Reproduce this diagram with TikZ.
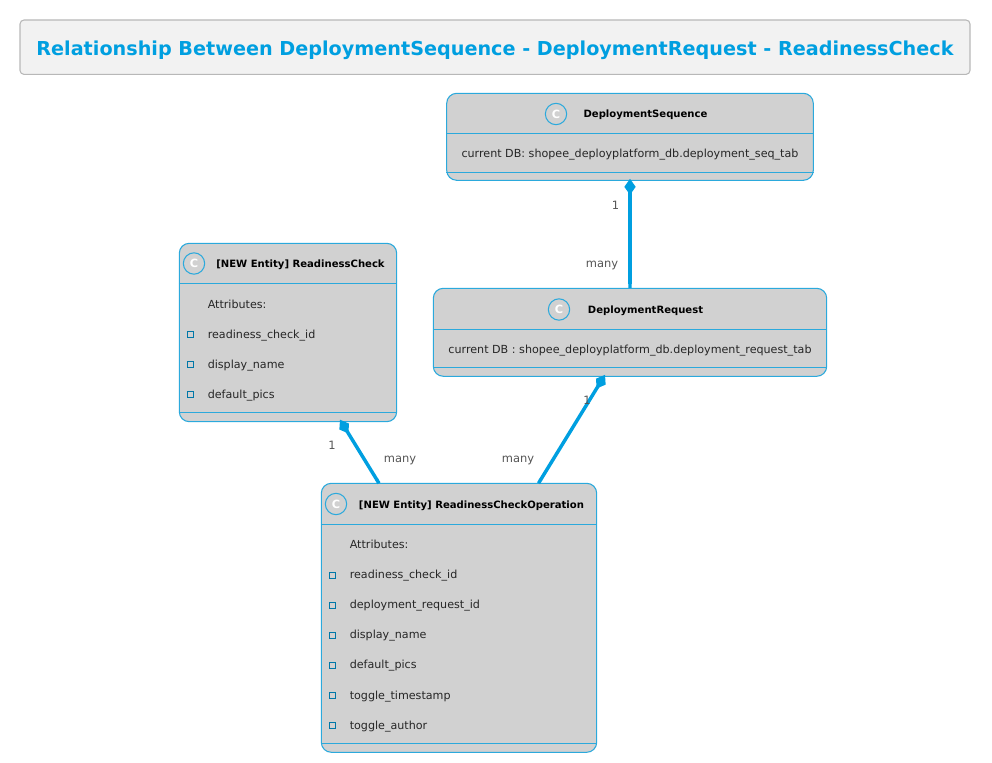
\documentclass[tikz,border=0pt]{standalone}
\usepackage{fontspec}
\setmainfont{DejaVu Sans}
\usetikzlibrary{arrows.meta}
\definecolor{umlblue}{HTML}{009FE0}
\definecolor{umledge}{HTML}{2BA9DC}
\definecolor{umlfill}{HTML}{D1D1D1}
\definecolor{umlgrey}{HTML}{555555}
\tikzset{
  classbox/.style={draw=umledge, fill=umlfill, line width=0.8pt, rounded corners=7.5pt, inner sep=0pt},
  sepline/.style={draw=umledge, line width=0.7pt},
  classmark/.style={circle, draw=umledge, line width=0.8pt, minimum size=16pt, inner sep=0pt, text=white, font=\fontsize{8.5}{9}\selectfont\bfseries},
  classname/.style={text=black, inner sep=0pt, font=\fontsize{7.55}{9}\selectfont\bfseries},
  attr/.style={anchor=base west, inner sep=0pt, text=black!85, font=\fontsize{8.35}{10}\selectfont},
  attrmark/.style={draw=umlblue!75!black, line width=0.6pt, minimum size=4.6pt, inner sep=0pt},
  mult/.style={text=umlgrey, inner sep=0pt, font=\fontsize{8.6}{10}\selectfont},
  compo/.style={draw=umlblue, line width=2.6pt, {Diamond[length=12pt,width=8.5pt]}-{Butt Cap[]}},
}
\begin{document}
\begin{tikzpicture}[x=0.75pt, y=-0.75pt]
  \useasboundingbox (0,0) rectangle (992,763);
  % Title
  \node[draw=black!28, fill=black!5, line width=0.8pt, rounded corners=3pt, inner sep=0pt,
    minimum width=712.5pt, minimum height=40.8pt] (titlebox) at (495,47.2) {};
  \node[text=umlblue, inner sep=0pt, font=\fontsize{14.4}{18}\selectfont\bfseries] (title) at (495,50)
    {Relationship Between DeploymentSequence - DeploymentRequest - ReadinessCheck};

  % Class boxes
  \foreach \name/\cx/\cy/\w/\h/\head/\foot in {
    seq/630/136.8/366.6/87/133.3/172.3,
    req/630/332.3/393.4/88/329.3/367.7,
    rc/288/332.5/217.4/178.4/283.3/412.3,
    op/459/617.8/275.4/269/524.7/743.3} {
    \node[classbox, minimum width=\w*0.75pt, minimum height=\h*0.75pt] (\name) at (\cx,\cy) {};
    \draw[sepline] (\name.west |- 0,\head) -- (\name.east |- 0,\head);
    \draw[sepline] (\name.west |- 0,\foot) -- (\name.east |- 0,\foot);
  }

  % Class headers
  \node[classmark] (seqmark) at (556,114) {C};
  \node[classname] (seqname) at (645.5,115) {DeploymentSequence};
  \node[classmark] (reqmark) at (559,309.5) {C};
  \node[classname] (reqname) at (645.5,310.5) {DeploymentRequest};
  \node[classmark] (rcmark) at (194,263.5) {C};
  \node[classname] (rcname) at (300.5,264.5) {[NEW Entity] ReadinessCheck};
  \node[classmark] (opmark) at (336,504) {C};
  \node[classname] (opname) at (471.5,505.5) {[NEW Entity] ReadinessCheckOperation};

  % Class bodies
  \node[attr, anchor=base] (seqdb) at (630,157.5) {current DB: shopee\_deployplatform\_db.deployment\_seq\_tab};
  \node[attr, anchor=base] (reqdb) at (630,353) {current DB : shopee\_deployplatform\_db.deployment\_request\_tab};
  \node[attr] (rcattrs) at (207.5,308) {Attributes:};
  \foreach \i/\y/\txt in {1/338/readiness\_check\_id, 2/368/display\_name, 3/398/default\_pics} {
    \node[attrmark] (rcmark\i) at (190.5,\y-3.5) {};
    \node[attr] (rcattr\i) at (207.5,\y) {\txt};
  }
  \node[attr] (opattrs) at (349.5,548.5) {Attributes:};
  \foreach \i/\y/\txt in {1/578.5/readiness\_check\_id, 2/608.5/deployment\_request\_id, 3/638.5/display\_name,
    4/668.5/default\_pics, 5/699/toggle\_timestamp, 6/729/toggle\_author} {
    \node[attrmark] (opmark\i) at (332,\y-3.5) {};
    \node[attr] (opattr\i) at (349.5,\y) {\txt};
  }

  % Relations
  \draw[compo] ([yshift=1.5pt]seq.south) -- (req.north);
  \draw[compo] ([shift={(-25,-2)}]req.south) -- ([shift={(79.5,0.5)}]op.north);
  \draw[compo] ([shift={(52,-2.5)}]rc.south) -- ([shift={(-80,0.5)}]op.north);

  % Multiplicities
  \node[mult] (m1) at (615.5,205) {1};
  \node[mult] (m2) at (602,265) {many};
  \node[mult] (m3) at (587,400) {1};
  \node[mult] (m4) at (518,460.5) {many};
  \node[mult] (m5) at (332,445.5) {1};
  \node[mult] (m6) at (400,460.5) {many};
\end{tikzpicture}
\end{document}
